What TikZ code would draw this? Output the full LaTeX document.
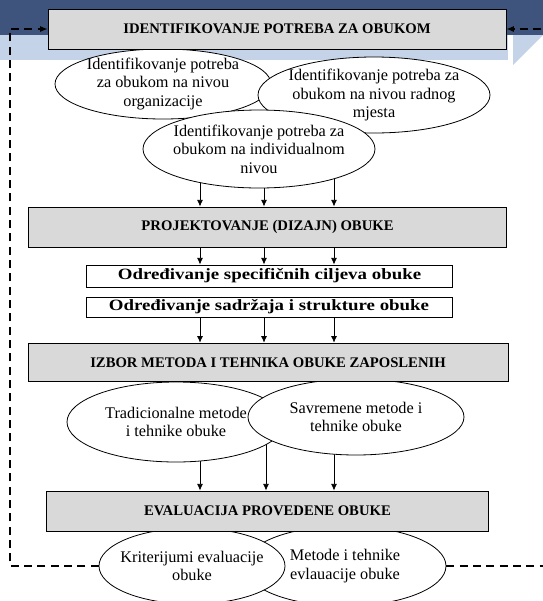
\documentclass[tikz,border=0pt]{standalone}
\usepackage{fontspec}
\setmainfont{Liberation Serif}
\newfontfamily\taskfont{Liberation Serif}[FakeStretch=1.2]
\usepackage{tikz}
\usetikzlibrary{shapes.geometric, arrows.meta, backgrounds}
\usepackage{xcolor}
\definecolor{bandDark}{RGB}{62, 84, 124}
\definecolor{bandLight}{RGB}{197, 211, 232}
\definecolor{boxGray}{RGB}{217, 217, 217}

\begin{document}
\begin{tikzpicture}
    [
        x=0.75pt, y=-0.75pt,
        stage/.style={
            draw, rectangle, fill=boxGray, inner sep=0pt, line width=0.7pt,
            font=\bfseries\fontsize{11}{12}\selectfont
        },
        task/.style={
            draw, rectangle, fill=white, inner sep=0pt, line width=0.7pt,
            font=\taskfont\bfseries\fontsize{11.8}{13}\selectfont
        },
        level/.style={
            draw, ellipse, fill=white, align=center, inner sep=-6pt,
            line width=0.6pt, font=\fontsize{12.2}{13.9}\selectfont
        },
        flow/.style={-{Latex[length=5pt, width=4.5pt]}, line width=0.6pt},
        feedback/.style={
            -{Latex[length=5.5pt, width=4.5pt]},
            dash pattern=on 6pt off 4pt, line width=0.8pt
        }
    ]

\useasboundingbox (0,0) rectangle (543,601);

% Nodes
\node (orgEll) [
        level, minimum width=162pt, minimum height=52.5pt
    ] at (163,84) {Identifikovanje potreba\\za obukom na nivou\\organizacije};

\node (radEll) [
        level, minimum width=174pt, minimum height=57pt
    ] at (374,95) {Identifikovanje potreba za\\obukom na nivou radnog\\mjesta};

\node (indEll) [
        level, minimum width=174pt, minimum height=58.5pt
    ] at (259,149) {Identifikovanje potreba za\\obukom na individualnom\\nivou};

\node (identBox) [
        stage, minimum width=343.5pt, minimum height=30pt
    ] at (277,29) {IDENTIFIKOVANJE POTREBA ZA OBUKOM};

\node (projBox) [
        stage, minimum width=359pt, minimum height=30pt
    ] at (267.5,227) {PROJEKTOVANJE (DIZAJN) OBUKE};

\node (ciljBox) [
        task, minimum width=274pt, minimum height=16.5pt
    ] at (269.5,276) {Određivanje specifičnih ciljeva obuke};

\node (sadrBox) [
        task, minimum width=274.5pt, minimum height=15pt
    ] at (269,307) {Određivanje sadržaja i strukture obuke};

\node (tradEll) [
        level, minimum width=163.5pt, minimum height=60pt
    ] at (176,422) {Tradicionalne metode\\i tehnike obuke};

\node (savrEll) [
        level, minimum width=162pt, minimum height=57pt
    ] at (356,417) {Savremene metode i\\tehnike obuke};

\node (izborBox) [
        stage, minimum width=360pt, minimum height=29pt
    ] at (268,362.5) {IZBOR METODA I TEHNIKA OBUKE ZAPOSLENIH};

\node (metEll) [
        level, minimum width=151.5pt, minimum height=60pt
    ] at (345,566) {Metode i tehnike\\evlauacije obuke};

\node (kritEll) [
        level, minimum width=139.5pt, minimum height=57pt
    ] at (192,566) {Kriterijumi evaluacije\\obuke};

\node (evalBox) [
        stage, minimum width=331pt, minimum height=30pt
    ] at (267.5,511) {EVALUACIJA PROVEDENE OBUKE};

\coordinate (colL) at (200,0);
\coordinate (colM) at (264,0);
\coordinate (colMl) at (266,0);
\coordinate (colR) at (334,0);
\coordinate (backL) at (10,0);
\coordinate (backR) at (552,0);

\begin{pgfonlayer}{background}
% header bands
\fill[bandDark] (0,0) rectangle (543,35);
\fill[bandLight] (0,35) rectangle (508,60);
\fill[bandLight] (513,35) -- (543,35) -- (513,65) -- cycle;

% Arrows
\foreach \col in {colL, colM, colR} {
    \draw[flow] (indEll.center -| \col) -- (projBox.north -| \col);
    \draw[flow] (projBox.south -| \col) -- (ciljBox.north -| \col);
    \draw[flow] (sadrBox.south -| \col) -- (izborBox.north -| \col);
}
\draw[flow] (tradEll.center -| colL) -- (evalBox.north -| colL);
\draw[flow] (savrEll.center -| colMl) -- (evalBox.north -| colMl);
\draw[flow] (savrEll.center -| colR) -- (evalBox.north -| colR);

% feedback
\draw[feedback] (kritEll.west) -| (backL |- identBox.west) -- (identBox.west);
\draw[feedback] (metEll.east) -| (backR |- identBox.east) -- (identBox.east);
\end{pgfonlayer}

\end{tikzpicture}
\end{document}
